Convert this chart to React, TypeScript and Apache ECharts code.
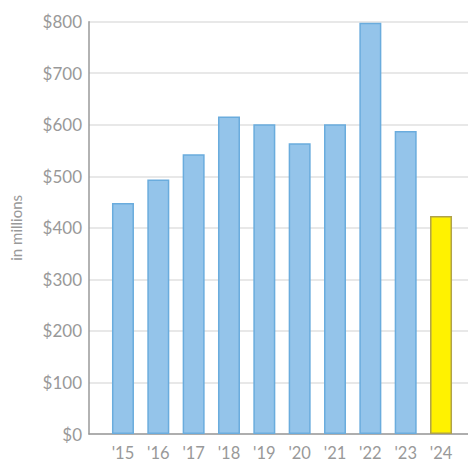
import React, { useEffect, useRef } from "react";
import * as echarts from "echarts";

const years = ["'15", "'16", "'17", "'18", "'19", "'20", "'21", "'22", "'23", "'24"];
const revenue = [448, 494, 543, 616, 601, 564, 601, 798, 588, 423];
const highlightIndex = 9;
const yTicks = [0, 100, 200, 300, 400, 500, 600, 700, 800];

export default function App() {
  const ref = useRef<HTMLDivElement>(null);
  useEffect(() => {
    document.body.style.margin = "0";
    const chart = echarts.init(ref.current!, null, { renderer: "svg" });
    const top = 21.7;
    const bottom = 28;
    chart.setOption({
      animation: false,
      backgroundColor: "#ffffff",
      textStyle: { fontFamily: "Lato" },
      grid: [
        { left: 87, right: 0, top, bottom, containLabel: false },
        { left: 105.3, right: 9.3, top, bottom, containLabel: false },
      ],
      xAxis: [
        {
          gridIndex: 0,
          type: "value",
          min: 0,
          max: 1,
          axisLine: { show: true, onZero: false, lineStyle: { color: "#9a9a9a", width: 1.5 } },
          axisTick: { show: false },
          axisLabel: { show: false },
          splitLine: { show: false },
        },
        {
          gridIndex: 1,
          type: "category",
          data: years,
          boundaryGap: true,
          axisLine: { show: false },
          axisTick: { show: false },
          axisLabel: {
            color: "#999999",
            fontSize: 16.5,
            lineHeight: 16,
            fontFamily: "Lato",
            margin: 11,
          },
        },
      ],
      yAxis: [
        {
          gridIndex: 0,
          type: "value",
          min: 0,
          max: yTicks[yTicks.length - 1],
          interval: 100,
          axisLine: { show: true, lineStyle: { color: "#9a9a9a", width: 1.5 } },
          axisTick: { show: false },
          axisLabel: {
            color: "#999999",
            fontSize: 17,
            fontFamily: "Lato",
            margin: 7,
            formatter: (v: number) => "$" + v,
          },
          splitLine: { show: true, lineStyle: { color: "#e0e0e0", width: 1.5 } },
          name: "in millions",
          nameLocation: "middle",
          nameGap: 66,
          nameRotate: 90,
          nameTextStyle: { color: "#999999", fontSize: 15, fontFamily: "Lato" },
        },
        {
          gridIndex: 1,
          type: "value",
          min: 0,
          max: yTicks[yTicks.length - 1],
          interval: 100,
          show: false,
          splitLine: { show: false },
        },
      ],
      series: [
        {
          type: "bar",
          xAxisIndex: 1,
          yAxisIndex: 1,
          barWidth: 22,
          clip: false,
          data: revenue.map((v, i) =>
            i === highlightIndex
              ? { value: v, itemStyle: { color: "#fff200", borderColor: "#b0a24a", borderWidth: 1.5 } }
              : { value: v, itemStyle: { color: "#94c4ea", borderColor: "#6aacdd", borderWidth: 1.5 } }
          ),
        },
      ],
    });
    return () => chart.dispose();
  }, []);
  return <div ref={ref} style={{ width: 468, height: 462 }} />;
}
